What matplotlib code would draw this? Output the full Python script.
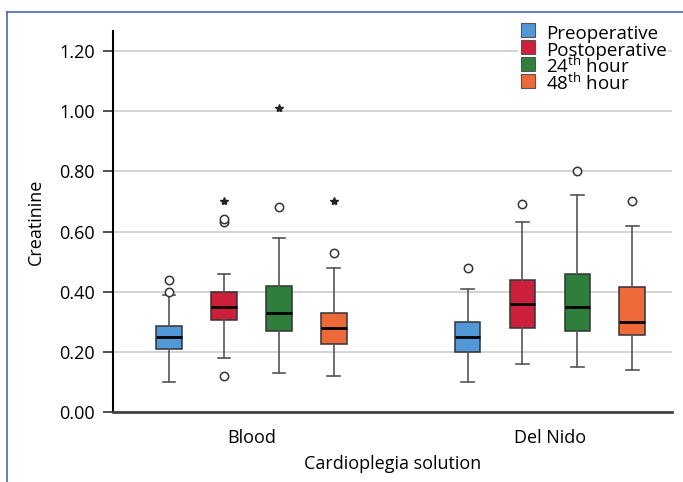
import numpy as np
import matplotlib
matplotlib.use("Agg")
import matplotlib.pyplot as plt
from matplotlib.lines import Line2D

plt.rcParams['font.family'] = ['Open Sans', 'DejaVu Sans']
plt.rcParams['mathtext.fontset'] = 'custom'
plt.rcParams['mathtext.rm'] = 'Open Sans'

# --- Data ---
groups = ["Blood", "Del Nido"]
series = ["Preoperative", "Postoperative", "24$^{\\mathrm{th}}$ hour", "48$^{\\mathrm{th}}$ hour"]
colors = ["#5398d6", "#cc1f3b", "#2f7e3b", "#ee693a"]

# per series: [Blood, Del Nido]
whislo = [[0.10, 0.10], [0.18, 0.16], [0.13, 0.15], [0.12, 0.14]]
q1 = [[0.21, 0.20], [0.305, 0.28], [0.27, 0.27], [0.225, 0.255]]
med = [[0.25, 0.25], [0.35, 0.36], [0.33, 0.35], [0.28, 0.30]]
q3 = [[0.285, 0.30], [0.40, 0.44], [0.42, 0.46], [0.33, 0.415]]
whishi = [[0.39, 0.41], [0.46, 0.63], [0.58, 0.72], [0.48, 0.62]]

# outliers (circles) and extreme values (stars)
circles = [[[0.40, 0.44], [0.48]],
           [[0.12, 0.63, 0.64], [0.69]],
           [[0.68], [0.80]],
           [[0.53], [0.70]]]
stars = [[[], []],
         [[0.70], []],
         [[1.01], []],
         [[0.70], []]]

yticks = [0.0, 0.2, 0.4, 0.6, 0.8, 1.0, 1.2]

# --- Plot ---
fig = plt.figure(figsize=(6.83, 4.82), dpi=100)
ax = fig.add_axes([0.1654, 0.1452, 0.9839 - 0.1654, 0.9357 - 0.1452])

offsets = np.array([-1.5, -0.5, 0.5, 1.5]) * 0.184
bw = 0.086

for s in range(len(series)):
    stats = []
    for g in range(len(groups)):
        stats.append(dict(med=med[s][g], q1=q1[s][g], q3=q3[s][g],
                          whislo=whislo[s][g], whishi=whishi[s][g], fliers=[]))
    pos = [g + offsets[s] for g in range(len(groups))]
    ax.bxp(stats, positions=pos, widths=bw, patch_artist=True, showfliers=False,
           capwidths=bw * 0.5,
           boxprops=dict(facecolor=colors[s], edgecolor="#333333", linewidth=1.1),
           medianprops=dict(color="black", linewidth=2),
           whiskerprops=dict(color="#555555", linewidth=1.2),
           capprops=dict(color="#555555", linewidth=1.2), zorder=3)
    for g in range(len(groups)):
        x = g + offsets[s]
        if circles[s][g]:
            ax.plot([x] * len(circles[s][g]), circles[s][g], 'o', mfc="white",
                    mec="#333333", mew=1.1, ms=6, zorder=4)
        if stars[s][g]:
            ax.plot([x] * len(stars[s][g]), stars[s][g], '*', color="#222222",
                    ms=6, zorder=4)

ax.set_xlim(-0.464, 1.409)
ax.set_ylim(0, 1.2666)
ax.set_yticks(yticks)
ax.set_yticklabels([f"{v:.2f}" for v in yticks], fontsize=13)
ax.set_xticks(range(len(groups)))
ax.set_xticklabels(groups, fontsize=13)
ax.tick_params(axis='x', length=0, pad=12)
ax.tick_params(axis='y', length=7, width=1.2, color="#333333", pad=6)
ax.yaxis.grid(True, color="#cccccc", linewidth=1.2)
ax.set_axisbelow(True)

for side in ["top", "right"]:
    ax.spines[side].set_visible(False)
ax.spines["left"].set_linewidth(1.5)
ax.spines["left"].set_color("black")
ax.spines["bottom"].set_linewidth(2)
ax.spines["bottom"].set_color("#444444")

ax.set_ylabel("Creatinine", fontsize=13, labelpad=10)
ax.set_xlabel("Cardioplegia solution", fontsize=13, labelpad=6)

# square markers keep the swatch size fixed while rows stay evenly spaced
handles = [Line2D([], [], marker='s', ls='', ms=10.5, mfc=c, mec="#555555", mew=0.8)
           for c in colors]
leg = ax.legend(handles, series, loc="upper right", bbox_to_anchor=(1.0, 1.04),
                fontsize=13.5, frameon=True, facecolor="white", edgecolor="none",
                framealpha=1, labelspacing=-0.33, handlelength=0.9,
                handleheight=1.5, handletextpad=0.5, borderpad=0.1,
                borderaxespad=0.2)

# blue frame lines at top and left of figure
fig.add_artist(Line2D([6.5 / 683, 6.5 / 683], [0, 1 - 11.5 / 482], color="#4868b8", lw=1.2))
fig.add_artist(Line2D([6.5 / 683, 1], [1 - 11.5 / 482, 1 - 11.5 / 482], color="#4868b8", lw=1.2))

fig.savefig("out.png", dpi=100)
